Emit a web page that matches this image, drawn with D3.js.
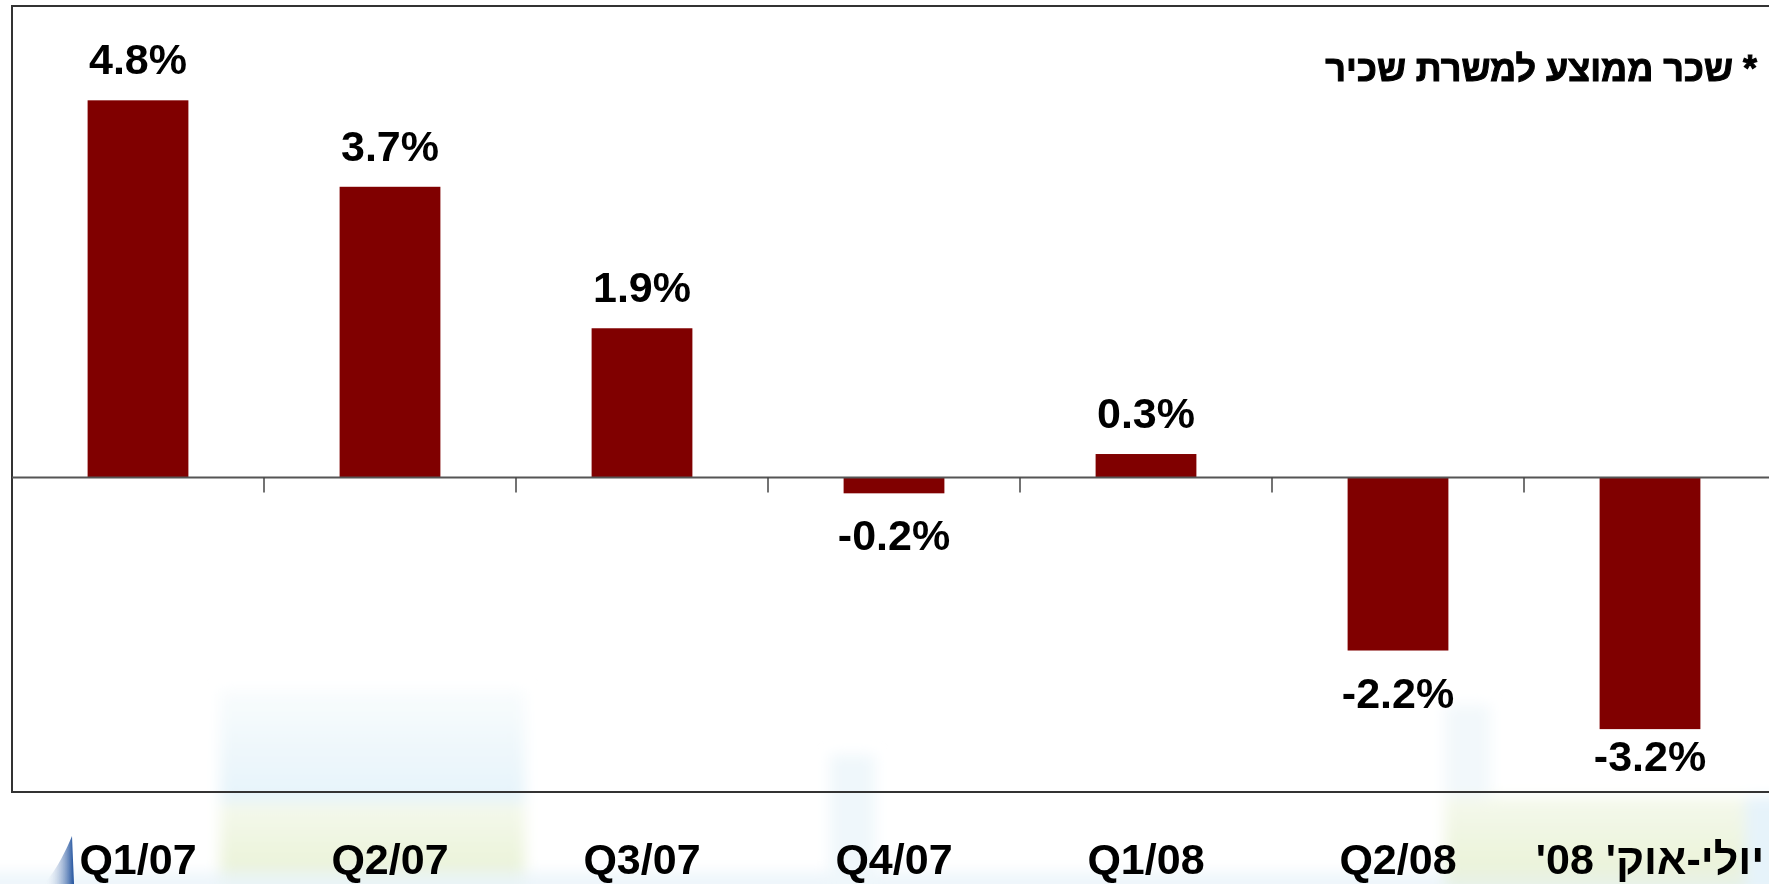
<!DOCTYPE html>
<html>
<head>
    <meta charset="utf-8">
    <script src="https://d3js.org/d3.v7.min.js"></script>
    <style>
        body { margin: 0; background: #ffffff; }
        svg { display: block; }
    </style>
</head>
<body>
    <svg width="1769" height="884"></svg>
    <script>

        // data
        var categories = ["Q1/07", "Q2/07", "Q3/07", "Q4/07", "Q1/08", "Q2/08", "יולי-אוק' 08'"];
        var values = [4.8, 3.7, 1.9, -0.2, 0.3, -2.2, -3.2];
        var valueLabels = ["4.8%", "3.7%", "1.9%", "-0.2%", "0.3%", "-2.2%", "-3.2%"];
        var note = "* שכר ממוצע למשרת שכיר";

        var svg = d3.select("svg"),
            font = "'Liberation Sans', Arial, 'DejaVu Sans', sans-serif";

        var plot = {left: 12, top: 6, right: 1776, bottom: 792};

        // faint background picture behind the chart
        var defs = svg.append("defs");
        defs.append("filter").attr("id", "soft")
            .attr("x", "-10%").attr("y", "-10%").attr("width", "120%").attr("height", "120%")
            .append("feGaussianBlur").attr("stdDeviation", 7);
        var g1 = defs.append("linearGradient").attr("id", "paleBlue").attr("x1", 0).attr("y1", 0).attr("x2", 0).attr("y2", 1);
        g1.append("stop").attr("offset", "0%").attr("stop-color", "#f9fcfd");
        g1.append("stop").attr("offset", "100%").attr("stop-color", "#e5f3fa");
        var g2 = defs.append("linearGradient").attr("id", "paleGreen").attr("x1", 0).attr("y1", 0).attr("x2", 0).attr("y2", 1);
        g2.append("stop").attr("offset", "0%").attr("stop-color", "#f5f9ec");
        g2.append("stop").attr("offset", "70%").attr("stop-color", "#ebf3da");
        g2.append("stop").attr("offset", "100%").attr("stop-color", "#e6f1ee");
        var g3 = defs.append("linearGradient").attr("id", "sail").attr("x1", 1).attr("y1", 0).attr("x2", 0).attr("y2", 0);
        g3.append("stop").attr("offset", "0%").attr("stop-color", "#1d4f9c");
        g3.append("stop").attr("offset", "100%").attr("stop-color", "#ffffff").attr("stop-opacity", 0);

        var bg = svg.append("g").attr("filter", "url(#soft)");
        bg.append("rect").attr("x", 220).attr("y", 690).attr("width", 305).attr("height", 113).attr("fill", "url(#paleBlue)");
        bg.append("rect").attr("x", 220).attr("y", 803).attr("width", 305).attr("height", 90).attr("fill", "url(#paleGreen)");
        bg.append("rect").attr("x", -20).attr("y", 872).attr("width", 1809).attr("height", 30).attr("fill", "#eaf4fa").attr("opacity", 0.8);
        bg.append("rect").attr("x", 830).attr("y", 755).attr("width", 45).attr("height", 140).attr("fill", "#eff7fb");
        bg.append("rect").attr("x", 1445).attr("y", 705).attr("width", 45).attr("height", 95).attr("fill", "#f2f8fb");
        bg.append("rect").attr("x", 1445).attr("y", 797).attr("width", 300).attr("height", 97).attr("fill", "url(#paleGreen)");
        bg.append("rect").attr("x", 1745).attr("y", 797).attr("width", 40).attr("height", 97).attr("fill", "#e6f3fa");

        svg.append("path")
           .attr("d", "M72,836 C66,850 58,868 44,884 L74,884 Z")
           .attr("fill", "url(#sail)");

        // scales
        var x = d3.scaleBand()
                  .domain(categories)
                  .range([plot.left, plot.right])
                  .paddingInner(0.6)
                  .paddingOuter(0.3);

        var y = d3.scaleLinear()
                  .domain([-4, 6])
                  .range([plot.bottom, plot.top]);

        var step = x.step();

        // plot frame
        svg.append("rect")
           .attr("x", plot.left)
           .attr("y", plot.top)
           .attr("width", plot.right - plot.left)
           .attr("height", plot.bottom - plot.top)
           .attr("fill", "none")
           .attr("stroke", "#333333")
           .attr("stroke-width", 2);

        // bars
        svg.selectAll(".bar")
           .data(values)
           .enter().append("rect")
           .attr("class", "bar")
           .attr("x", function(d, i) { return x(categories[i]); })
           .attr("y", function(d) { return y(Math.max(0, d)); })
           .attr("width", x.bandwidth())
           .attr("height", function(d) { return Math.abs(y(d) - y(0)); })
           .attr("fill", "#800000");

        // zero line with ticks between categories
        svg.append("line")
           .attr("x1", plot.left).attr("x2", plot.right)
           .attr("y1", y(0)).attr("y2", y(0))
           .attr("stroke", "#555555")
           .attr("stroke-width", 2);

        svg.selectAll(".tick")
           .data(categories.slice(1))
           .enter().append("line")
           .attr("class", "tick")
           .attr("x1", function(d) { return x(d) + x.bandwidth() / 2 - step / 2; })
           .attr("x2", function(d) { return x(d) + x.bandwidth() / 2 - step / 2; })
           .attr("y1", y(0))
           .attr("y2", y(0) + 15)
           .attr("stroke", "#444444")
           .attr("stroke-width", 1.5);

        // value labels
        svg.selectAll(".val")
           .data(values)
           .enter().append("text")
           .attr("class", "val")
           .attr("x", function(d, i) { return x(categories[i]) + x.bandwidth() / 2; })
           .attr("y", function(d) {
                if (d >= 0) return y(d) - 26;
                return Math.min(y(d) + 57, plot.bottom - 21);
           })
           .attr("text-anchor", "middle")
           .style("font-family", font)
           .style("font-weight", "bold")
           .style("font-size", "43px")
           .attr("fill", "#000000")
           .text(function(d, i) { return valueLabels[i]; });

        // category labels
        svg.selectAll(".cat")
           .data(categories)
           .enter().append("text")
           .attr("class", "cat")
           .attr("x", function(d) { return x(d) + x.bandwidth() / 2; })
           .attr("y", 874)
           .attr("text-anchor", "middle")
           .attr("direction", function(d) { return /[\u0590-\u05FF]/.test(d) ? "rtl" : "ltr"; })
           .style("font-family", font)
           .style("font-weight", "bold")
           .style("font-size", "43px")
           .attr("fill", "#000000")
           .text(function(d) { return d; });

        // note in the top right corner (heavier stroke, the original face is very bold)
        svg.append("text")
           .attr("x", 1757)
           .attr("y", 81)
           .attr("direction", "rtl")
           .attr("text-anchor", "start")
           .style("font-family", font)
           .style("font-weight", "bold")
           .style("font-size", "36px")
           .attr("fill", "#000000")
           .attr("stroke", "#000000")
           .attr("stroke-width", 1)
           .text(note);

    </script>
</body>
</html>
